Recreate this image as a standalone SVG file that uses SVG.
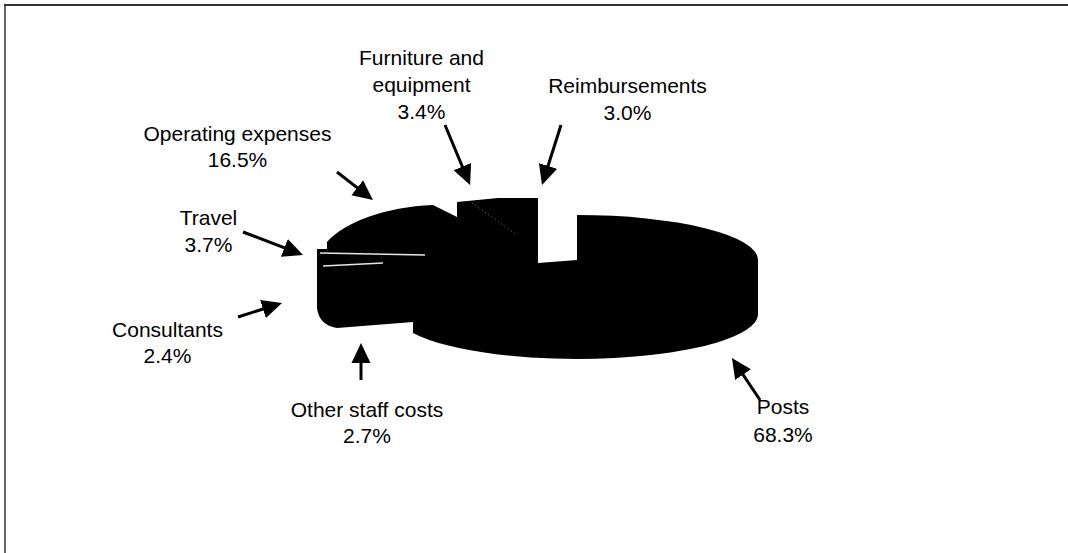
<svg xmlns="http://www.w3.org/2000/svg" width="1068" height="553" viewBox="0 0 1068 553">
  <style>
    .lbl { font-family: "Liberation Sans", Arial, sans-serif; font-size: 21px; fill: #000; text-anchor: middle; }
    .arrow { stroke: #000; stroke-width: 3; fill: none; marker-end: url(#head); }
    .frame { stroke: #333; fill: none; }
  </style>
  <defs>
    <marker id="head" markerUnits="userSpaceOnUse" markerWidth="20" markerHeight="20" refX="10" refY="10" orient="auto">
      <path d="M0,0.5 L20,10 L0,19.5 Z" fill="#000"/>
    </marker>
  </defs>
  <rect width="1068" height="553" fill="#fff"/>
  <g id="frame">
    <line class="frame" x1="4" y1="5" x2="1068" y2="5" stroke-width="2"/>
    <line class="frame" x1="5" y1="4" x2="5" y2="553" stroke-width="1.5"/>
  </g>
  <g id="pie">
    <path d="M317,249 L327,249 L327,242 C345,222 385,207 433,205 L457,217 L457,202 L498,198 L538,198 L538,263 L577,260 L577,215 A181,45 0 0 1 758,260 L758,315 A181,45 0 0 1 413,333 L413,322 L337,328 Q319,325 317,308 Z" fill="#000"/>
    <line x1="320" y1="253" x2="425" y2="255" stroke="#e6e6e6" stroke-width="1.5"/>
    <line x1="323" y1="266" x2="383" y2="263" stroke="#e6e6e6" stroke-width="1.5"/>
    <line x1="472" y1="203" x2="517" y2="235" stroke="#777" stroke-width="1" stroke-dasharray="1 3"/>
  </g>
  <g id="connectors">
    <line class="arrow" x1="337" y1="172" x2="365.1" y2="193.9"/>
    <line class="arrow" x1="445" y1="125" x2="466.2" y2="175.8"/>
    <line class="arrow" x1="561" y1="125" x2="545" y2="175.5"/>
    <line class="arrow" x1="243" y1="232" x2="293.7" y2="251.4"/>
    <line class="arrow" x1="238" y1="317" x2="272.5" y2="306"/>
    <line class="arrow" x1="361" y1="380" x2="361" y2="353"/>
    <line class="arrow" x1="760" y1="400" x2="737.5" y2="366.3"/>
  </g>
  <g id="label-furniture">
    <text class="lbl" x="421.5" y="65">Furniture and</text>
    <text class="lbl" x="421.5" y="92">equipment</text>
    <text class="lbl" x="421.5" y="119">3.4%</text>
  </g>
  <g id="label-reimbursements">
    <text class="lbl" x="627.5" y="93">Reimbursements</text>
    <text class="lbl" x="627.5" y="120">3.0%</text>
  </g>
  <g id="label-operating">
    <text class="lbl" x="237.5" y="141">Operating expenses</text>
    <text class="lbl" x="237.5" y="167">16.5%</text>
  </g>
  <g id="label-travel">
    <text class="lbl" x="208.5" y="225">Travel</text>
    <text class="lbl" x="208.5" y="252">3.7%</text>
  </g>
  <g id="label-consultants">
    <text class="lbl" x="167.5" y="337">Consultants</text>
    <text class="lbl" x="167.5" y="363">2.4%</text>
  </g>
  <g id="label-other-staff">
    <text class="lbl" x="367" y="417">Other staff costs</text>
    <text class="lbl" x="367" y="443">2.7%</text>
  </g>
  <g id="label-posts">
    <text class="lbl" x="783" y="414">Posts</text>
    <text class="lbl" x="783" y="442">68.3%</text>
  </g>
</svg>
